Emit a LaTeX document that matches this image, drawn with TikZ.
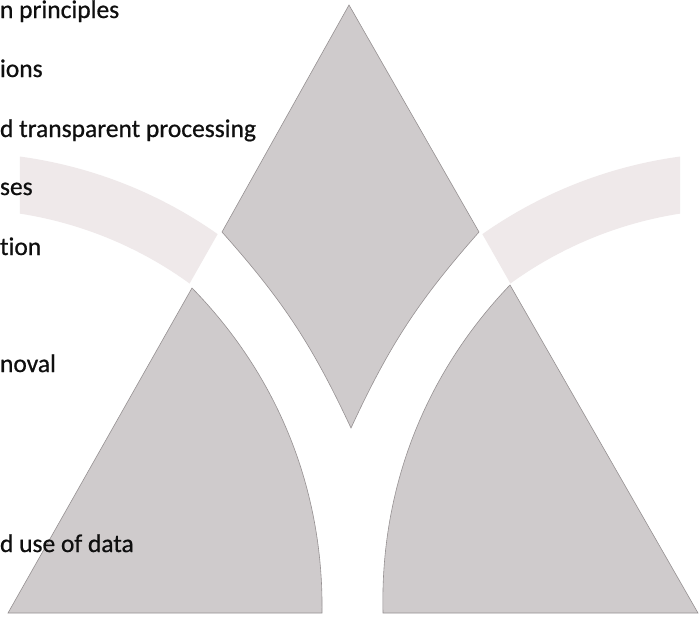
\documentclass[tikz,border=0pt]{standalone}
\usepackage{fontspec}
\setmainfont{Carlito}[Ligatures=NoCommon,BoldFont=Carlito,BoldFeatures={FakeBold=0.7}]
\definecolor{shapegray}{RGB}{207,203,204}
\definecolor{shapeedge}{RGB}{150,145,146}
\definecolor{bandgray}{RGB}{239,233,234}
\definecolor{textdark}{RGB}{15,15,15}
\begin{document}
\begin{tikzpicture}[x=1pt,y=1pt,
  darkshape/.style={fill=shapegray,draw=shapeedge,line width=0.6pt,line join=miter},
  lightband/.style={fill=bandgray,draw=none},
  label/.style={anchor=base west,inner sep=0pt,outer sep=0pt,text=textdark,font=\fontsize{25.5}{30}\selectfont\bfseries}]
\useasboundingbox (0,0) rectangle (700,-619);
\fill[white] (0,0) rectangle (700,-619);

% light bands
\draw[lightband] (-40,-600) ++(82.3:447.5) arc[start angle=82.3,end angle=54.85,radius=447.5]
  -- (189.6,-283.5) arc[start angle=54.04,end angle=81.2,radius=391] -- cycle;
\draw[lightband] (740,-600) ++(97.7:447.5) arc[start angle=97.7,end angle=125.15,radius=447.5]
  -- (510.4,-283.5) arc[start angle=125.96,end angle=98.8,radius=391] -- cycle;

% top shape
\coordinate (tApex) at (349,-5);
\coordinate (tLeft) at (222,-232);
\coordinate (tBot) at (351,-428);
\coordinate (tRight) at (479,-232);
\draw[darkshape] (tApex) -- (tLeft) to[bend left=8.3] (tBot) to[bend left=8.3] (tRight) -- cycle;

% bottom-left shape
\coordinate (blTop) at (192,-288);
\coordinate (blBR) at (322,-613);
\coordinate (blBL) at (8,-613);
\draw[darkshape] (blTop) to[bend left=22.6,looseness=0.9] (blBR) -- (blBL) -- cycle;

% bottom-right shape
\coordinate (brTop) at (510,-285);
\coordinate (brBR) at (698,-613);
\coordinate (brBL) at (383,-613);
\draw[darkshape] (brTop) -- (brBR) -- (brBL) to[bend left=22.6,looseness=0.9] cycle;

% texts
\node[label] (t1) at (0,-18) {n principles};
\node[label] (t2) at (0,-77) {ions};
\node[label] (t3) at (0,-137) {d transparent processing};
\node[label] (t4) at (0,-195) {ses};
\node[label] (t5) at (0,-255) {tion};
\node[label] (t6) at (0,-372) {noval};
\node[label] (t7) at (0,-552) {d use of data};
\end{tikzpicture}
\end{document}
